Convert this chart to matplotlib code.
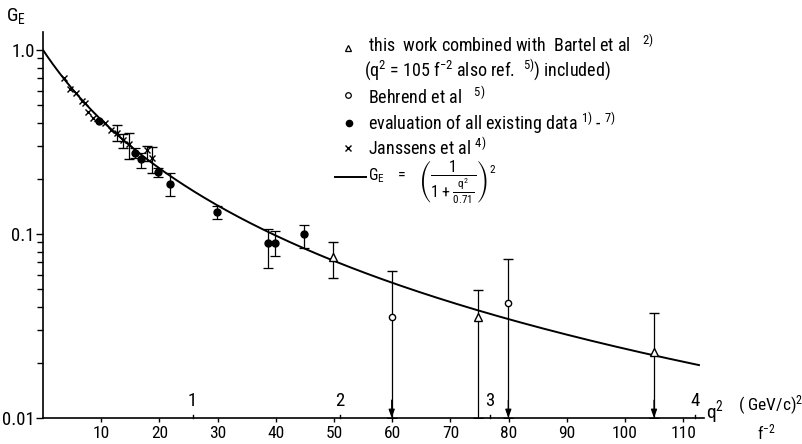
import numpy as np
import matplotlib
matplotlib.use("Agg")
import matplotlib.pyplot as plt

plt.rcParams['font.family'] = ['Roboto Condensed', 'DejaVu Sans']
plt.rcParams['mathtext.default'] = 'regular'

# ---------------- data ----------------
# Janssens et al (crosses) without visible error bars
jan_x = [3.61, 4.64, 5.67, 6.75, 7.22, 7.78, 8.64, 10.65, 11.68]
jan_y = [0.702, 0.612, 0.582, 0.528, 0.513, 0.462, 0.429, 0.400, 0.367]
# Janssens et al with error bars
jane_x = [12.77, 13.80, 14.83, 17.82, 18.78]
jane_y = [0.353, 0.324, 0.307, 0.286, 0.258]
jane_top = [0.391, 0.348, 0.355, 0.301, 0.296]
jane_bot = [0.321, 0.294, 0.256, 0.249, 0.214]

# evaluation of all existing data (filled dots)
ev_x = [9.67, 15.81, 16.79, 19.81, 21.82, 29.85, 38.71, 39.86, 44.85]
ev_y = [0.412, 0.277, 0.256, 0.216, 0.186, 0.132, 0.0897, 0.0897, 0.0996]
ev_top = [0.412, 0.292, 0.275, 0.228, 0.214, 0.142, 0.1065, 0.1038, 0.1115]
ev_bot = [0.412, 0.258, 0.228, 0.205, 0.1615, 0.121, 0.0656, 0.0759, 0.0836]

# this work combined with Bartel et al (open triangles)
tw_x = [49.88, 74.79, 104.98]
tw_y = [0.0752, 0.0355, 0.0228]
tw_top = [0.0901, 0.0496, 0.0371]
tw_bot = [0.0574, 0.01, 0.01]
tw_arrow = [False, False, True]

# Behrend et al (open circles), upper limits with arrows
be_x = [59.91, 79.95]
be_y = [0.0355, 0.0420]
be_top = [0.0632, 0.0731]
be_bot = [0.01, 0.01]

# dipole fit parameter
lam2 = 0.71            # (GeV/c)^2
f2_per_gev2 = 25.68    # f^-2 per (GeV/c)^2
curve_xmax = 112.7

xticks = [10, 20, 30, 40, 50, 60, 70, 80, 90, 100, 110]
gev_ticks = [25.7, 51.0, 76.8, 112.0]
gev_labels = ['1', '2', '3', '4']
yticks = [0.01, 0.1, 1.0]
ylabels = ['0.01', '0.1', '1.0']

# ---------------- figure ----------------
W, H = 803, 444
fig = plt.figure(figsize=(W / 100, H / 100), dpi=100)
x0px, x1px, y0px, y1px = 43, 703.6, 418, 32
ax = fig.add_axes([x0px / W, 1 - y0px / H, (x1px - x0px) / W, (y0px - y1px) / H])
ax.set_xlim(0, 113.5)
ax.set_yscale('log')
ax.set_ylim(0.01, 1.2525)
for s in ['top', 'right']:
    ax.spines[s].set_visible(False)
for s in ['left', 'bottom']:
    ax.spines[s].set_linewidth(1.2)

ax.set_xticks(xticks)
ax.set_xticklabels([str(t) for t in xticks], fontsize=12.5)
ax.tick_params(axis='x', direction='out', length=3, width=1, pad=3)
ax.set_yticks(yticks)
ax.set_yticklabels(ylabels, fontsize=13.5)
ax.yaxis.set_minor_locator(matplotlib.ticker.LogLocator(base=10, subs=np.arange(2, 10)))
ax.yaxis.set_minor_formatter(matplotlib.ticker.NullFormatter())
ax.tick_params(axis='y', which='major', direction='out', length=5, width=1, pad=1)
ax.tick_params(axis='y', which='minor', direction='out', length=4, width=1)

# dipole curve
q2 = np.linspace(0, curve_xmax, 400)
ge = 1.0 / (1.0 + (q2 / f2_per_gev2) / lam2) ** 2
ax.plot(q2, ge, color='k', lw=1.4, zorder=2)

ekw = dict(ecolor='k', elinewidth=0.9, capsize=3.5, capthick=0.9, zorder=3)

# Janssens
ax.plot(jan_x, jan_y, ls='none', marker='x', ms=5, mew=1, color='k', zorder=4)
je = np.array(jane_y)
ax.errorbar(jane_x, jane_y, yerr=[je - np.array(jane_bot), np.array(jane_top) - je],
            fmt='x', ms=5, mew=1, color='k', **ekw)

# evaluation
ey = np.array(ev_y)
ax.errorbar(ev_x, ev_y, yerr=[ey - np.array(ev_bot), np.array(ev_top) - ey],
            fmt='o', ms=5, color='k', **ekw)

# this work
ty = np.array(tw_y)
ax.errorbar(tw_x, tw_y, yerr=[ty - np.array(tw_bot), np.array(tw_top) - ty],
            fmt='^', ms=6, mfc='white', mec='k', mew=1, color='k', **ekw)

# Behrend
by = np.array(be_y)
ax.errorbar(be_x, be_y, yerr=[by - np.array(be_bot), np.array(be_top) - by],
            fmt='o', ms=4.5, mfc='white', mec='k', mew=1, color='k', **ekw)

# arrows for upper limits
arrow_x = [x for x, a in zip(tw_x, tw_arrow) if a] + be_x
for xa in arrow_x:
    ax.annotate('', xy=(xa, 0.01), xytext=(xa, 0.0125),
                arrowprops=dict(arrowstyle='-|>,head_length=0.5,head_width=0.18',
                                color='k', lw=0.9, shrinkA=0, shrinkB=0),
                annotation_clip=False, zorder=5)

# secondary (GeV/c)^2 ticks
for gx, gl in zip(gev_ticks, gev_labels):
    ax.plot([gx, gx], [0.01, 0.0104], color='k', lw=1, clip_on=False)
    ax.text(gx, 0.0111, gl, ha='center', va='bottom', fontsize=13.5)

# ---------------- overlay for labels & legend (pixel coords) ----------------
ov = fig.add_axes([0, 0, 1, 1], zorder=10)
ov.set_xlim(0, W)
ov.set_ylim(H, 0)
ov.axis('off')

ov.text(6, 16, r'G$_E$', fontsize=14, ha='left', va='center')
ov.text(706, 412, r'q$^2$', fontsize=14, ha='left', va='center')
ov.text(738, 405, r'( GeV/c)$^2$', fontsize=12.5, ha='left', va='center')
ov.text(757, 432, r'f$^{-2}$', fontsize=12, ha='left', va='center')

fs = 13
tx = 368
ov.plot([348], [48], marker='^', ms=5, mfc='white', mec='k', mew=0.9, ls='none')
ov.text(tx, 45, r'this  work combined with  Bartel et al   $^{2)}$', fontsize=fs, va='center')
ov.text(364, 70, r'(q$^2$ = 105 f$^{-2}$ also ref.  $^{5)}$) included)', fontsize=fs, va='center')
ov.plot([348], [95], marker='o', ms=4, mfc='white', mec='k', mew=0.9, ls='none')
ov.text(tx, 97, r'Behrend et al   $^{5)}$', fontsize=fs, va='center')
ov.plot([349], [123], marker='o', ms=4.5, color='k', ls='none')
ov.text(tx, 123, r'evaluation of all existing data $^{1)}$ - $^{7)}$', fontsize=fs, va='center')
ov.plot([348], [148], marker='x', ms=5, mew=1, color='k', ls='none')
ov.text(tx, 148, r'Janssens et al $^{4)}$', fontsize=fs, va='center')
ov.plot([335, 366], [177, 177], color='k', lw=1.4)
ov.text(tx, 181, r'$G_E\ \ =\ \ \left(\dfrac{1}{1+\frac{q^2}{0.71}}\right)^2$', fontsize=11.5, va='center')

fig.savefig('out.png', dpi=100)
